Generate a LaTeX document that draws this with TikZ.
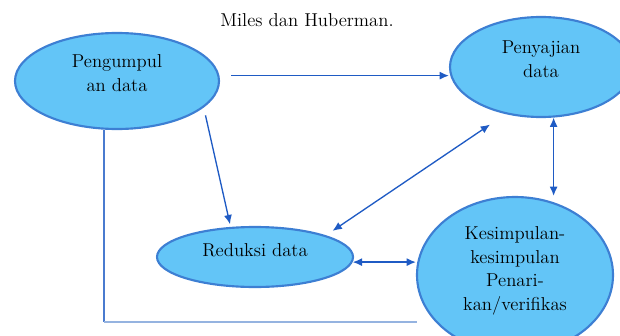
\documentclass[tikz,border=0pt]{standalone}
\usepackage{tikz}
\usetikzlibrary{arrows.meta,shapes.geometric,positioning}
\usepackage{xcolor}

\definecolor{isibiru}{HTML}{63C5F7}
\definecolor{tepibiru}{HTML}{3D7FD3}
\definecolor{panah}{HTML}{1F5BC4}
\definecolor{garistua}{HTML}{4A7BCF}
\definecolor{garismuda}{HTML}{95B3E0}

\begin{document}
\begin{tikzpicture}[x=0.75pt, y=-0.75pt]
                \tikzstyle{bubble} = [shape=ellipse, fill=isibiru, draw=tepibiru, line width=1.6pt, inner sep=0pt];
                \tikzstyle{teks} = [align=center, inner sep=0pt, font=\fontsize{14}{17.75}\selectfont];
                \tikzstyle{panahan} = [-{Latex[length=7pt,width=6pt]}, color=panah, line width=1pt];
                \tikzstyle{duaarah} = [{Latex[length=7pt,width=6pt]}-{Latex[length=7pt,width=6pt]}, color=panah, line width=1pt];

                \useasboundingbox (0,0) rectangle (620,335);

                \node[teks](judul) at (307,20) {Miles dan Huberman.};

                \node[bubble, minimum width=153pt, minimum height=72pt](kumpul) at (117,81) {};
                \node[bubble, minimum width=136.5pt, minimum height=75pt](sajian) at (541,67) {};
                \node[bubble, minimum width=147pt, minimum height=45pt](reduksi) at (255,257) {};
                \node[bubble, minimum width=147pt, minimum height=117pt](simpulan) at (515,275) {};

                \node[teks](kumpulT) at (117,73) {Pengumpul\\an data};
                \node[teks](sajianT) at (541,59) {Penyajian\\data};
                \node[teks](reduksiT) at (255,250) {Reduksi data};
                \node[teks](simpulanT) at (515,271) {Kesimpulan-\\kesimpulan\\Penari-\\kan/verifikas};

                \coordinate (ujung) at (417,322);
                \coordinate (siku) at (kumpul.-105 |- ujung);

                \draw[panahan, shorten <=9pt] (kumpul.3) -- (kumpul.3 -| sajian.west);
                \draw[panahan, shorten <=6pt, shorten >=2pt] (kumpul.-17) -- (reduksi.129);
                \draw[duaarah, shorten <=6pt, shorten >=14pt] (reduksi.17) -- (sajian.233);
                \draw[duaarah] (sajian.-76) -- (sajian.-76 |- simpulan.north);
                \draw[duaarah] (reduksi.-3) -- (reduksi.-3 -| simpulan.west);

                \draw[garistua, line width=1.1pt] (kumpul.-105) -- (siku);
                \draw[garismuda, line width=1.1pt] (siku) -- (ujung);
            \end{tikzpicture}
\end{document}
